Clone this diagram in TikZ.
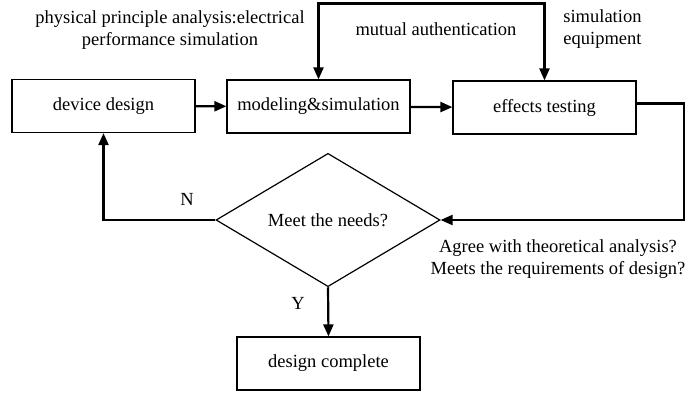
\documentclass[tikz,border=0pt]{standalone}
\usepackage{fontspec}
\setmainfont{Liberation Serif}
\usetikzlibrary{shapes.geometric,arrows.meta,calc}

\tikzset{
  stage/.style={draw, line width=0.6pt, minimum width=91.5pt, minimum height=26.5pt, inner sep=0pt},
  decision/.style={draw, diamond, line width=0.6pt, minimum width=112pt, minimum height=57pt, inner sep=0pt},
  link/.style={line width=1.1pt, -{Triangle[length=6pt,width=5pt]}},
  note/.style={align=center, inner sep=0pt}
}

\begin{document}
\begin{tikzpicture}[x=0.5pt, y=-0.5pt, font=\fontsize{9.25}{11}\selectfont]
				\useasboundingbox (0,0) rectangle (696,392);
				
				% main stages
				\node[stage] (device) at (103.5,106) {device design};
				\node[stage] (model) at (318.5,106.5) {modeling\&simulation};
				\node[stage] (test) at (544.5,107.5) {effects testing};
				\node[decision] (check) at (328,220) {Meet the needs?};
				\node[stage] (done) at (328.5,363.5) {design complete};
				
				% remarks
				\node[note] (physics) at (170,30) {physical principle analysis:electrical\\performance simulation};
				\node[note] (mutual) at (436,29) {mutual authentication};
				\node[note, align=left, anchor=west] (equip) at (563,29) {simulation\\equipment};
				\node[note] (agree) at (558,259) {Agree with theoretical analysis?\\Meets the requirements of design?};
				\node[note] (no) at (187,199) {N};
				\node[note] (yes) at (298,303) {Y};
				
				% flow
				\draw[link] (device) -- (model);
				\draw[link] (model) -- (test);
				\draw[link, {Triangle[length=6pt,width=5pt]}-{Triangle[length=6pt,width=5pt]}]
				(model.north) -- ++(0,-76) -| (test.north);
				\draw[link] ([yshift=2pt]test.east) -- ++(47,0) |- (check.east);
				\draw[link] (check.west) -| (device.south);
				\draw[link] (check.south) -- (done.north);
			\end{tikzpicture}
\end{document}
